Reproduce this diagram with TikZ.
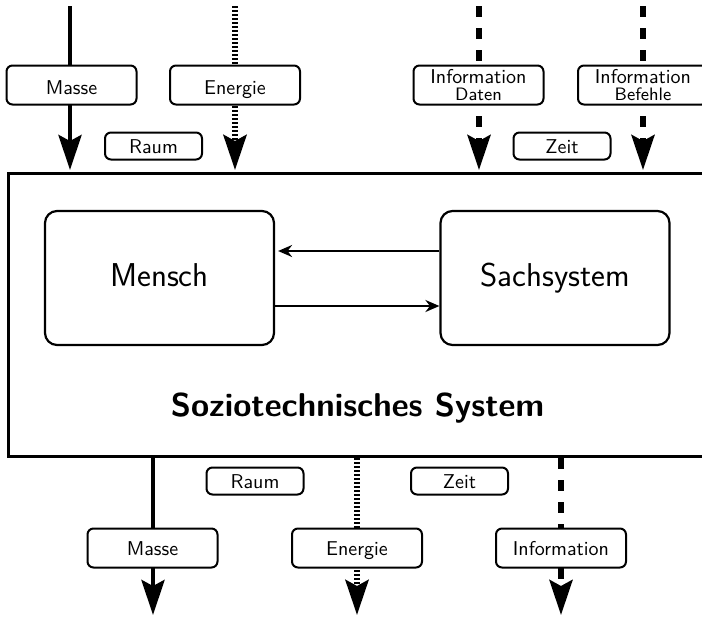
\documentclass[tikz,border=0pt]{standalone}
\usetikzlibrary{arrows.meta}
\begin{document}
\sffamily
\begin{tikzpicture}[x=0.5pt,y=-0.5pt,
  boxbase/.style={draw, fill=white, inner sep=0pt, line width=1pt, rounded corners=3pt, font=\sffamily\normalsize},
  flowlabel/.style={boxbase, minimum width=65pt, minimum height=19.5pt, text height=7pt, text depth=0pt},
  inlabel/.style={flowlabel, text height=9.3pt},
  infolabel/.style={boxbase, minimum width=65pt, minimum height=19.5pt, align=center},
  dimlabel/.style={boxbase, minimum width=48.5pt, minimum height=13.5pt, text height=7.3pt, text depth=0pt},
  element/.style={draw, rounded corners=6pt, line width=1.1pt, minimum width=114.5pt, minimum height=67pt,
    text height=12pt, text depth=3.5pt, font=\sffamily\fontsize{16.5}{20}\selectfont},
  bigtip/.style={-{Stealth[length=17.5pt,width=11.5pt,inset=3pt]}},
  massflow/.style={bigtip, line width=2.2pt},
  energyflow/.style={bigtip, line width=2.8pt, dash pattern=on 1pt off 1pt},
  infoflow/.style={bigtip, line width=2.6pt, dash pattern=on 5.5pt off 5.5pt},
  link/.style={-{Stealth[length=7pt,width=6pt]}, line width=1pt},
  small/.style={font=\fontsize{6}{7}\selectfont}]
\useasboundingbox (0,0) rectangle (702,617);
\clip (0,0) rectangle (702,617);

% the sociotechnical system
\node[draw, line width=1.6pt, anchor=north west, minimum width=370pt, minimum height=141.5pt, inner sep=0pt] (sys) at (7,172) {};
\node[anchor=base, font=\sffamily\bfseries\fontsize{16.5}{20}\selectfont] (title) at (357.5,416.7) {Soziotechnisches System};

\node[element] (mensch) at (159.5,278) {Mensch};
\node[element] (sach) at (555,278) {Sachsystem};
\draw[link, shorten >=1.5pt] ([yshift=13.5pt]sach.west) -- ([yshift=13.5pt]mensch.east);
\draw[link] ([yshift=-14pt]mensch.east) -- ([yshift=-14pt]sach.west);

% inputs
\coordinate (inM) at (70,6);
\coordinate (inE) at (235,6);
\coordinate (inD) at (479,6);
\coordinate (inB) at (643,6);
\draw[massflow, shorten >=1pt] (inM) -- (inM |- sys.north);
\draw[energyflow, shorten >=1pt] (inE) -- (inE |- sys.north);
\draw[infoflow, shorten >=1pt] (inD) -- (inD |- sys.north);
\draw[infoflow, shorten >=1pt] (inB) -- (inB |- sys.north);

\node[inlabel] (lblInM) at (71.5,85) {Masse};
\node[inlabel] (lblInE) at (235,85) {Energie};
\node[infolabel] (lblInD) at (478.5,85) {Information\\[-3.5pt]{\small Daten}};
\node[infolabel] (lblInB) at (643,85) {Information\\[-3.5pt]{\small Befehle}};
\node[dimlabel] (raumIn) at (153.5,146) {Raum};
\node[dimlabel] (zeitIn) at (562,146) {Zeit};

% outputs
\coordinate (outM) at (153,615);
\coordinate (outE) at (357,615);
\coordinate (outI) at (561,615);
\draw[massflow] (outM |- sys.south) -- (outM);
\draw[energyflow] (outE |- sys.south) -- (outE);
\draw[infoflow] (outI |- sys.south) -- (outI);

\node[flowlabel] (lblOutM) at (152.5,548) {Masse};
\node[flowlabel] (lblOutE) at (357,548) {Energie};
\node[flowlabel] (lblOutI) at (561,548) {Information};
\node[dimlabel] (raumOut) at (255,481) {Raum};
\node[dimlabel] (zeitOut) at (459.5,481) {Zeit};
\end{tikzpicture}
\end{document}
